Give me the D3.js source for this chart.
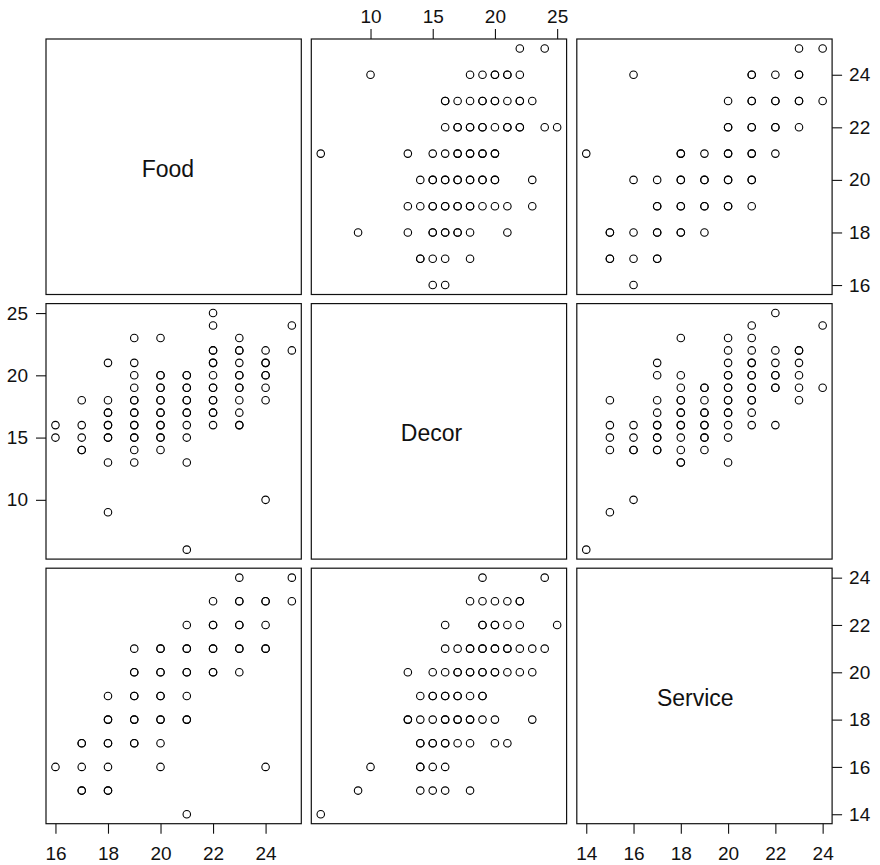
<!DOCTYPE html>
<html>
<head>
<meta charset="utf-8">
<script src="https://cdn.jsdelivr.net/npm/d3@7"></script>
<style>
  html, body { margin: 0; padding: 0; background: #fff; }
  svg { display: block; }
  text { font-family: "Liberation Sans", Arial, Helvetica, sans-serif; fill: #111; }
</style>
</head>
<body>
<svg id="chart" width="880" height="865"></svg>
<script>
// ---------------- data ----------------
const variables = ["Food", "Decor", "Service"];
const foodTicks = [16, 18, 20, 22, 24];
const decorTicks = [10, 15, 20, 25];
const serviceTicks = [14, 16, 18, 20, 22, 24];
const foodRange = [16, 25];
const decorRange = [6, 25];
const serviceRange = [14, 24];

// [Food, Decor, overplot count]
const foodDecor = [
  [16,16,1],[16,15,1],
  [17,18,1],[17,16,1],[17,15,1],[17,14,2],
  [18,21,1],[18,18,1],[18,17,2],[18,16,2],[18,15,2],[18,13,1],[18,9,1],
  [19,23,1],[19,21,1],[19,20,1],[19,19,1],[19,18,2],[19,17,2],[19,16,2],[19,15,2],[19,14,1],[19,13,1],
  [20,23,1],[20,20,2],[20,19,2],[20,18,2],[20,17,2],[20,16,2],[20,15,2],[20,14,1],
  [21,20,2],[21,19,2],[21,18,2],[21,17,2],[21,16,1],[21,15,1],[21,13,1],[21,6,1],
  [22,25,1],[22,24,1],[22,22,2],[22,21,2],[22,20,1],[22,19,2],[22,18,2],[22,17,2],[22,16,1],
  [23,23,1],[23,22,2],[23,21,1],[23,20,2],[23,19,2],[23,18,1],[23,17,1],[23,16,2],
  [24,22,1],[24,21,2],[24,20,2],[24,19,1],[24,18,1],[24,10,1],
  [25,24,1],[25,22,1]
];

// [Food, Service, overplot count]
const foodService = [
  [23,24,1],[25,24,1],
  [22,23,1],[23,23,2],[24,23,2],[25,23,1],
  [21,22,1],[22,22,2],[23,22,2],[24,22,1],
  [19,21,1],[20,21,2],[21,21,2],[22,21,2],[23,21,2],[24,21,2],
  [19,20,2],[20,20,2],[21,20,2],[22,20,2],[23,20,1],
  [18,19,1],[19,19,2],[20,19,2],[21,19,1],
  [18,18,2],[19,18,2],[20,18,2],[21,18,2],
  [17,17,2],[18,17,2],[19,17,2],[20,17,1],
  [16,16,1],[17,16,1],[18,16,1],[20,16,1],[24,16,1],
  [17,15,2],[18,15,2],
  [21,14,1]
];

// [Decor, Service, overplot count]
const decorService = [
  [19,24,1],[24,24,1],
  [18,23,1],[19,23,1],[20,23,1],[21,23,1],[22,23,2],
  [16,22,1],[19,22,2],[20,22,2],[21,22,1],[22,22,1],[25,22,1],
  [16,21,1],[17,21,1],[18,21,2],[19,21,2],[20,21,2],[21,21,2],[22,21,1],[23,21,1],[24,21,1],
  [13,20,1],[15,20,1],[16,20,1],[17,20,2],[18,20,2],[19,20,2],[20,20,2],[21,20,1],[22,20,1],[23,20,1],
  [14,19,1],[15,19,2],[16,19,2],[17,19,2],[18,19,1],[19,19,2],
  [13,18,2],[14,18,1],[15,18,1],[16,18,2],[17,18,2],[18,18,2],[19,18,1],[20,18,1],[23,18,1],
  [14,17,2],[15,17,2],[16,17,2],[17,17,1],[18,17,1],[20,17,1],[21,17,1],
  [10,16,1],[14,16,2],[15,16,1],[16,16,1],
  [9,15,1],[14,15,1],[15,15,1],[16,15,1],[18,15,1],
  [6,14,1]
];

// ---------------- layout ----------------
const colX = [46, 311.3, 576.8];
const rowY = [39, 303.6, 568.2];
const panelW = 255.3, panelH = 255.5;
const labelShift = [-5.8, -7.5, -9.2];

const ranges = { Food: foodRange, Decor: decorRange, Service: serviceRange };
const ticks = { Food: foodTicks, Decor: decorTicks, Service: serviceTicks };
const pairData = { "Food|Decor": foodDecor, "Food|Service": foodService, "Decor|Service": decorService };

function extDomain(r) { const e = (r[1] - r[0]) * 0.04; return [r[0] - e, r[1] + e]; }

const xScales = variables.map((v, j) => d3.scaleLinear().domain(extDomain(ranges[v])).range([colX[j], colX[j] + panelW]));
const yScales = variables.map((v, i) => d3.scaleLinear().domain(extDomain(ranges[v])).range([rowY[i] + panelH, rowY[i]]));

function pointsFor(xv, yv) {
  if (pairData[xv + "|" + yv]) return pairData[xv + "|" + yv].map(d => ({ x: d[0], y: d[1], n: d[2] }));
  return pairData[yv + "|" + xv].map(d => ({ x: d[1], y: d[0], n: d[2] }));
}

const svg = d3.select("#chart");
svg.append("rect").attr("width", 880).attr("height", 865).attr("fill", "#fff");

variables.forEach((yv, i) => {
  variables.forEach((xv, j) => {
    const g = svg.append("g");
    if (i === j) {
      g.append("text")
        .attr("x", colX[j] + panelW / 2 + labelShift[j])
        .attr("y", rowY[i] + panelH / 2 + 10)
        .attr("text-anchor", "middle")
        .attr("font-size", 23)
        .text(xv);
    } else {
      const pts = pointsFor(xv, yv);
      const expanded = [];
      pts.forEach(p => { for (let k = 0; k < p.n; k++) expanded.push(p); });
      g.selectAll("circle").data(expanded).join("circle")
        .attr("cx", d => xScales[j](d.x))
        .attr("cy", d => yScales[i](d.y))
        .attr("r", 3.75)
        .attr("fill", "none")
        .attr("stroke", "#000")
        .attr("stroke-width", 1.1);
    }
    g.append("rect")
      .attr("x", colX[j]).attr("y", rowY[i])
      .attr("width", panelW).attr("height", panelH)
      .attr("fill", "none").attr("stroke", "#111").attr("stroke-width", 1.2);
  });
});

function styleAxis(sel) {
  sel.select(".domain").remove();
  sel.selectAll(".tick line").attr("stroke", "#111").attr("stroke-width", 1.1);
  sel.selectAll(".tick text").attr("font-size", 19).attr("fill", "#111")
     .style("font-family", '"Liberation Sans", Arial, Helvetica, sans-serif');
}

// top axis on column 2 (Decor)
svg.append("g").attr("transform", `translate(0,${rowY[0]})`)
  .call(d3.axisTop(xScales[1]).tickValues(ticks.Decor).tickSize(10).tickPadding(6))
  .call(styleAxis);

// right axis for row 1 (Food)
svg.append("g").attr("transform", `translate(${colX[2] + panelW},0)`)
  .call(d3.axisRight(yScales[0]).tickValues(ticks.Food).tickSize(10).tickPadding(7))
  .call(styleAxis);

// left axis for row 2 (Decor)
svg.append("g").attr("transform", `translate(${colX[0]},0)`)
  .call(d3.axisLeft(yScales[1]).tickValues(ticks.Decor).tickSize(10).tickPadding(8))
  .call(styleAxis);

// right axis for row 3 (Service)
svg.append("g").attr("transform", `translate(${colX[2] + panelW},0)`)
  .call(d3.axisRight(yScales[2]).tickValues(ticks.Service).tickSize(10).tickPadding(7))
  .call(styleAxis);

// bottom axes for columns 1 (Food) and 3 (Service)
[0, 2].forEach(j => {
  svg.append("g").attr("transform", `translate(0,${rowY[2] + panelH})`)
    .call(d3.axisBottom(xScales[j]).tickValues(ticks[variables[j]]).tickSize(10))
    .call(styleAxis)
    .call(sel => sel.selectAll(".tick text").attr("dy", null).attr("y", 36));
});
</script>
</body>
</html>
